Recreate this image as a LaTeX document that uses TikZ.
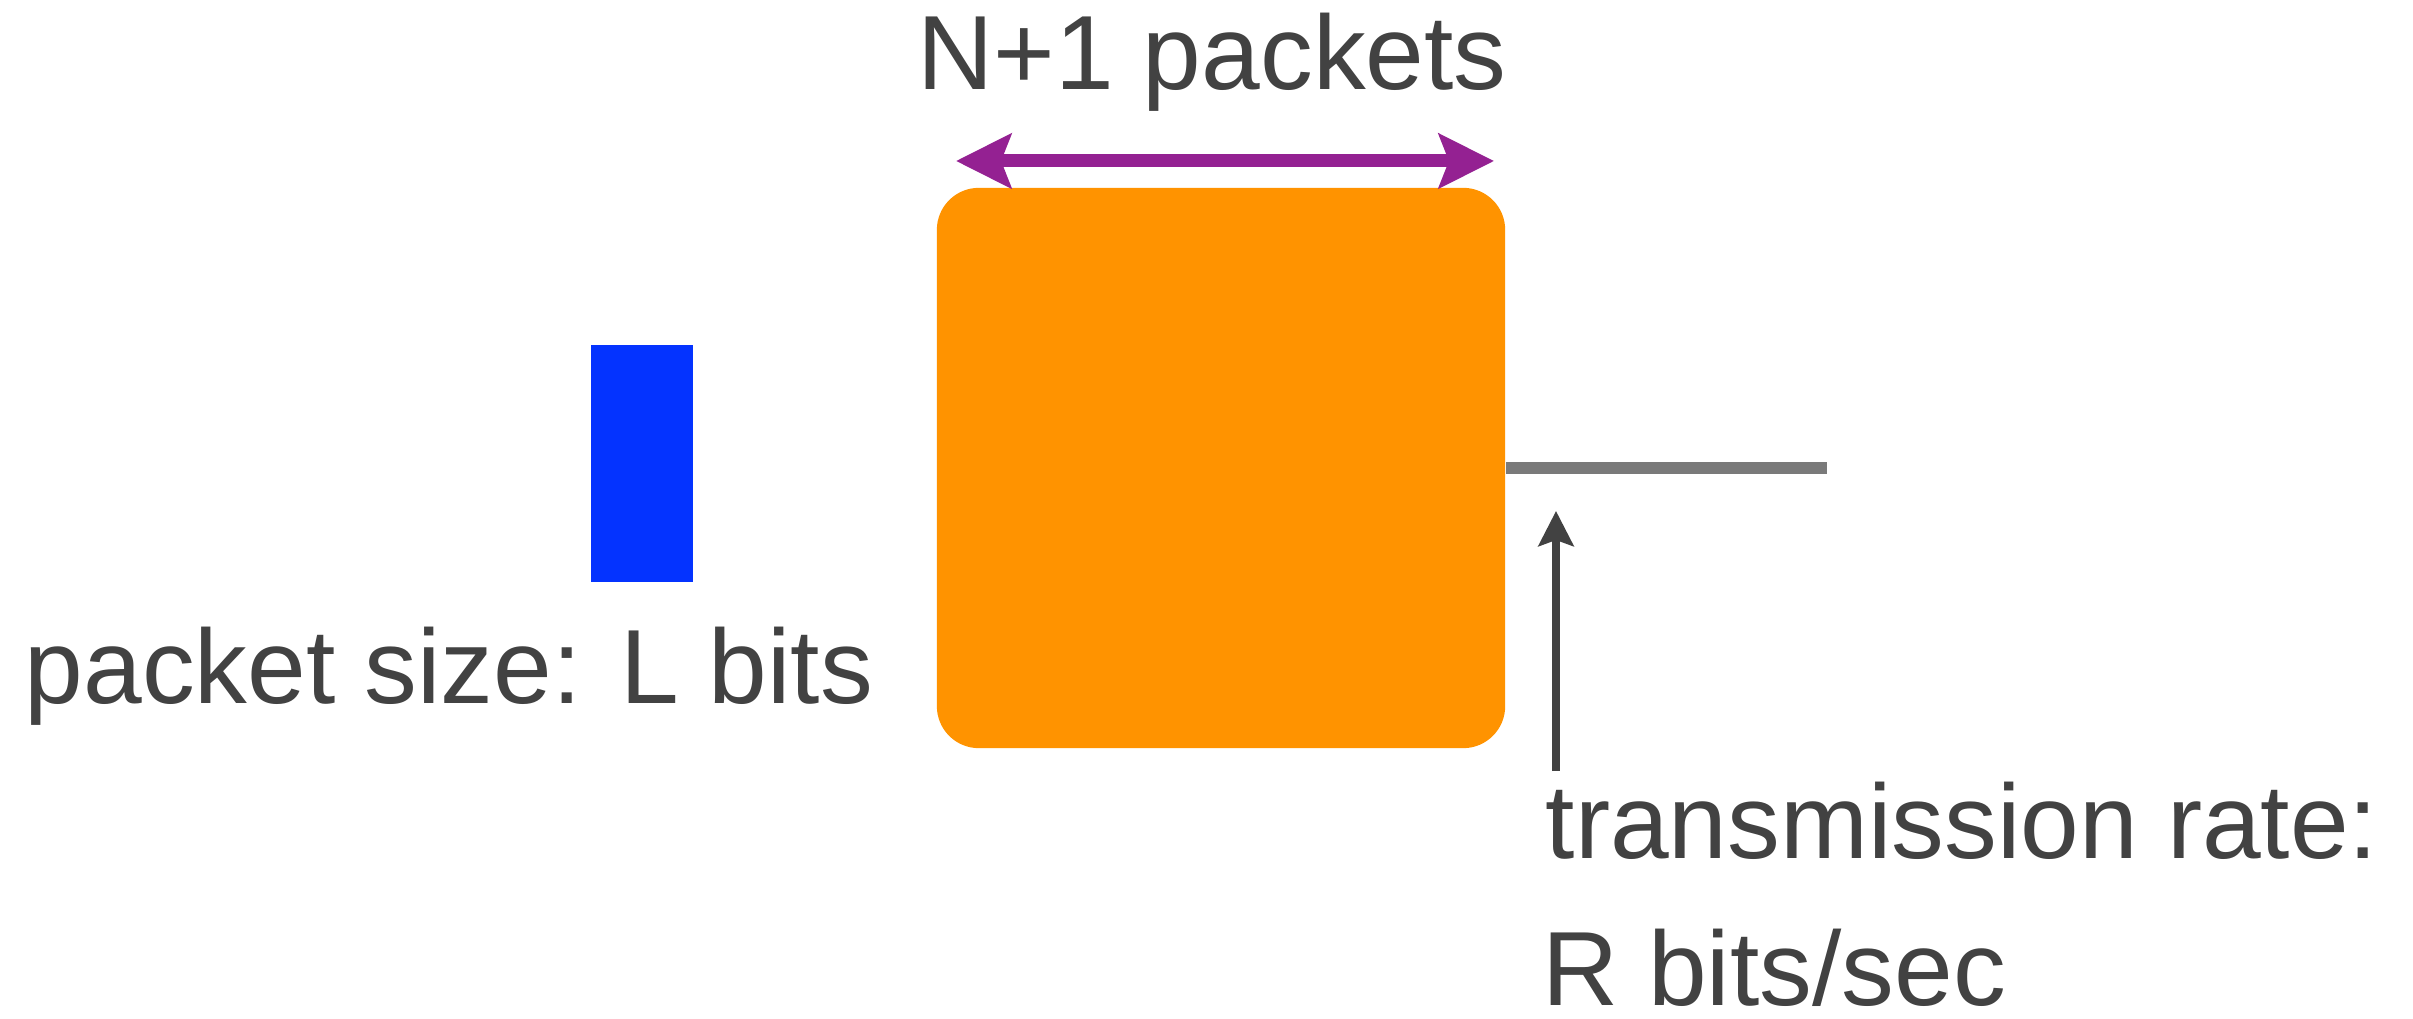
\documentclass[tikz,border=0pt]{standalone}
\usepackage{fontspec}
\setmainfont{Liberation Sans}
\usetikzlibrary{arrows.meta}
\definecolor{txtgray}{HTML}{424242}
\definecolor{pktblue}{HTML}{0433FF}
\definecolor{bufora}{HTML}{FF9300}
\definecolor{linkgray}{HTML}{7A7A7A}
\definecolor{arrpurple}{HTML}{942192}
\begin{document}
\begin{tikzpicture}[x=0.01cm,y=-0.01cm,
        lbl/.style={inner sep=0pt,text=txtgray,font=\fontsize{30}{36}\selectfont}]
        \useasboundingbox (0,0) rectangle (2413,1019);
        % packet and queue
        \node[fill=pktblue,minimum width=1.02cm,minimum height=2.37cm,inner sep=0pt] (pkt) at (642,463.5) {};
        \node[fill=bufora,rounded corners=4.2mm,minimum width=5.68cm,minimum height=5.6cm,inner sep=0pt] (buf) at (1221,468) {};
        \coordinate (out) at (1827,468);
        \draw[linkgray,line width=1.2mm] (buf.east) -- (out);
        % queue length
        \coordinate (qleft) at (956,161);
        \coordinate (qright) at (1494,161);
        \draw[arrpurple,line width=1.3mm,{Stealth[length=5.5mm,width=5.4mm,inset=1mm]}-{Stealth[length=5.5mm,width=5.4mm,inset=1mm]}] (qleft) -- (qright);
        \node[lbl,anchor=base] (nlab) at (1212,90) {N+1 packets};
        % link rate
        \coordinate (rbot) at (1556,771);
        \coordinate (rtop) at (1556,511);
        \draw[txtgray,line width=0.8mm,-{Stealth[length=3.5mm,width=3.5mm,inset=0.6mm]}] (rbot) -- (rtop);
        \node[lbl,anchor=base west] (rate) at (1545,858) {transmission rate:};
        \node[lbl,anchor=base west] (rval) at (1542,1005) {R bits/sec};
        \node[lbl,anchor=base west] (size) at (24,703) {packet size: L bits};
\end{tikzpicture}
\end{document}
